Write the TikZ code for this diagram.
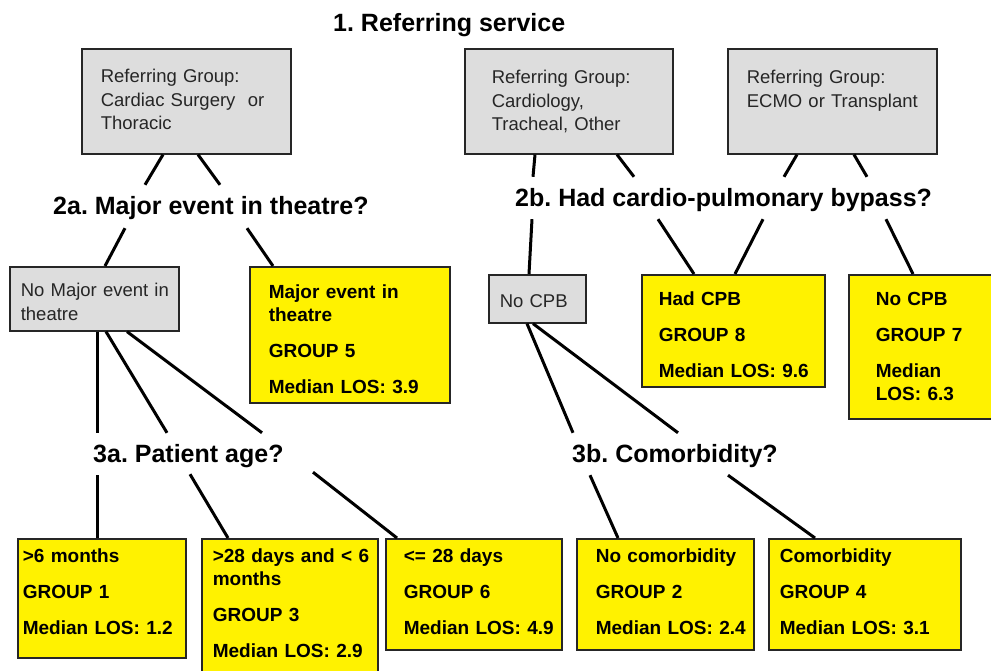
\documentclass[tikz,border=0pt]{standalone}
\usepackage{fontspec}
\setmainfont{Liberation Sans}
\usetikzlibrary{calc}
\definecolor{boxgrey}{HTML}{DDDDDD}
\frenchspacing

\begin{document}
\begin{tikzpicture}[x=1pt,y=-1pt,
  box/.style={draw=black!85,line width=1.6pt,inner sep=0pt,anchor=north west,align=left},
  greybox/.style={box,fill=boxgrey,text=black!85,font=\fontsize{18.5}{23.5}\selectfont},
  yellowbox/.style={box,fill=yellow,font=\fontsize{19}{23}\selectfont\bfseries},
  lpad/.style={execute at begin node={\leftskip=#1pt}},
  question/.style={font=\fontsize{25}{30}\selectfont\bfseries,inner sep=0pt,anchor=base west,text height=18pt,text depth=5pt},
  branch/.style={line width=3pt}]
\useasboundingbox (0,0) rectangle (991,671);

% headings
\node[question] (title) at (333,32) {1. Referring service};
\node[question] (q2a) at (53,215) {2a. Major event in theatre?};
\node[question] (q2b) at (515,207) {2b. Had cardio-pulmonary bypass?};
\node[question] (q3a) at (93,462) {3a. Patient age?};
\node[question] (q3b) at (572,462) {3b. Comorbidity?};

% referring groups
\node[greybox,lpad=19,text width=209pt,text height=34pt,text depth=71pt] (cardsurg) at (81,48)
  {Referring Group:\\Cardiac Surgery\ \ or\\Thoracic};
\node[greybox,lpad=27,text width=208pt,text height=35pt,text depth=70pt] (cardio) at (464,48)
  {Referring Group:\\Cardiology,\\Tracheal, Other};
\node[greybox,lpad=19,text width=209pt,text height=35pt,text depth=70pt] (ecmo) at (727,48)
  {Referring Group:\\ECMO or Transplant};

% second level
\node[greybox,lpad=11,text width=169pt,text height=30pt,text depth=34pt] (nomajor) at (9,266)
  {No Major event in\\theatre};
\node[yellowbox,lpad=19,text width=200pt,text height=32pt,text depth=104pt] (major) at (249,266)
  {Major event in\\theatre\\[13pt]GROUP 5\\[13pt]Median LOS: 3.9};
\node[greybox,lpad=11,text width=97pt,text height=33pt,text depth=15pt] (nocpb) at (488,274)
  {No CPB};
\node[yellowbox,lpad=17,text width=183pt,text height=31pt,text depth=81pt] (hadcpb) at (641,274)
  {Had CPB\\[13pt]GROUP 8\\[13pt]Median LOS: 9.6};
\node[yellowbox,lpad=27,text width=152pt,text height=31pt,text depth=113pt] (grpseven) at (848,274)
  {No CPB\\[13pt]GROUP 7\\[13pt]Median\\LOS: 6.3};

% final groups
\node[yellowbox,lpad=5,text width=168pt,text height=24pt,text depth=95pt] (grpone) at (17,538)
  {>6 months\\[13pt]GROUP 1\\[13pt]Median LOS: 1.2};
\node[yellowbox,lpad=11,text width=176pt,text height=24pt,text depth=118pt] (grpthree) at (201,538)
  {>28 days and < 6\\months\\[13pt]GROUP 3\\[13pt]Median LOS: 2.9};
\node[yellowbox,lpad=18,text width=176pt,text height=24pt,text depth=87pt] (grpsix) at (385,538)
  {<= 28 days\\[13pt]GROUP 6\\[13pt]Median LOS: 4.9};
\node[yellowbox,lpad=19,text width=177pt,text height=24pt,text depth=87pt] (grptwo) at (576,538)
  {No comorbidity\\[13pt]GROUP 2\\[13pt]Median LOS: 2.4};
\node[yellowbox,lpad=11,text width=192pt,text height=24pt,text depth=87pt] (grpfour) at (768,538)
  {Comorbidity\\[13pt]GROUP 4\\[13pt]Median LOS: 3.1};

% branches
\draw[branch] ($(cardsurg.south west)+(82,0)$) -- ($(q2a.north west)+(92,-12)$);
\draw[branch] ($(cardsurg.south west)+(117,0)$) -- ($(q2a.north west)+(167,-12)$);
\draw[branch] ($(q2a.south west)+(72,8)$) -- ($(nomajor.north west)+(96,0)$);
\draw[branch] ($(q2a.south west)+(194,8)$) -- ($(major.north west)+(24,0)$);
\draw[branch] ($(nomajor.south west)+(88,0)$) -- ($(q3a.north west)+(4,-11)$);
\draw[branch] ($(nomajor.south west)+(97,0)$) -- ($(q3a.north west)+(74,-11)$);
\draw[branch] ($(nomajor.south west)+(118,0)$) -- ($(q3a.north west)+(169,-11)$);
\draw[branch] ($(q3a.south west)+(4,8)$) -- ($(grpone.north west)+(80,0)$);
\draw[branch] ($(q3a.south west)+(97,7)$) -- ($(grpthree.north west)+(27,0)$);
\draw[branch] ($(q3a.south west)+(220,5)$) -- ($(grpsix.north west)+(12,0)$);
\draw[branch] ($(cardio.south west)+(71,0)$) -- ($(q2b.north west)+(18,-12)$);
\draw[branch] ($(cardio.south west)+(153,0)$) -- ($(q2b.north west)+(119,-12)$);
\draw[branch] ($(ecmo.south west)+(70,0)$) -- ($(q2b.north west)+(269,-12)$);
\draw[branch] ($(ecmo.south west)+(127,0)$) -- ($(q2b.north west)+(352,-12)$);
\draw[branch] ($(q2b.south west)+(17,7)$) -- ($(nocpb.north west)+(41,0)$);
\draw[branch] ($(q2b.south west)+(143,7)$) -- ($(hadcpb.north west)+(53,0)$);
\draw[branch] ($(q2b.south west)+(248,7)$) -- ($(hadcpb.north west)+(94,0)$);
\draw[branch] ($(q2b.south west)+(371,7)$) -- ($(grpseven.north west)+(65,0)$);
\draw[branch] ($(nocpb.south west)+(39,0)$) -- ($(q3b.north west)+(1,-11)$);
\draw[branch] ($(nocpb.south west)+(45,0)$) -- ($(q3b.north west)+(106,-11)$);
\draw[branch] ($(q3b.south west)+(18,8)$) -- ($(grptwo.north west)+(42,0)$);
\draw[branch] ($(q3b.south west)+(156,8)$) -- ($(grpfour.north west)+(47,0)$);
\end{tikzpicture}
\end{document}
